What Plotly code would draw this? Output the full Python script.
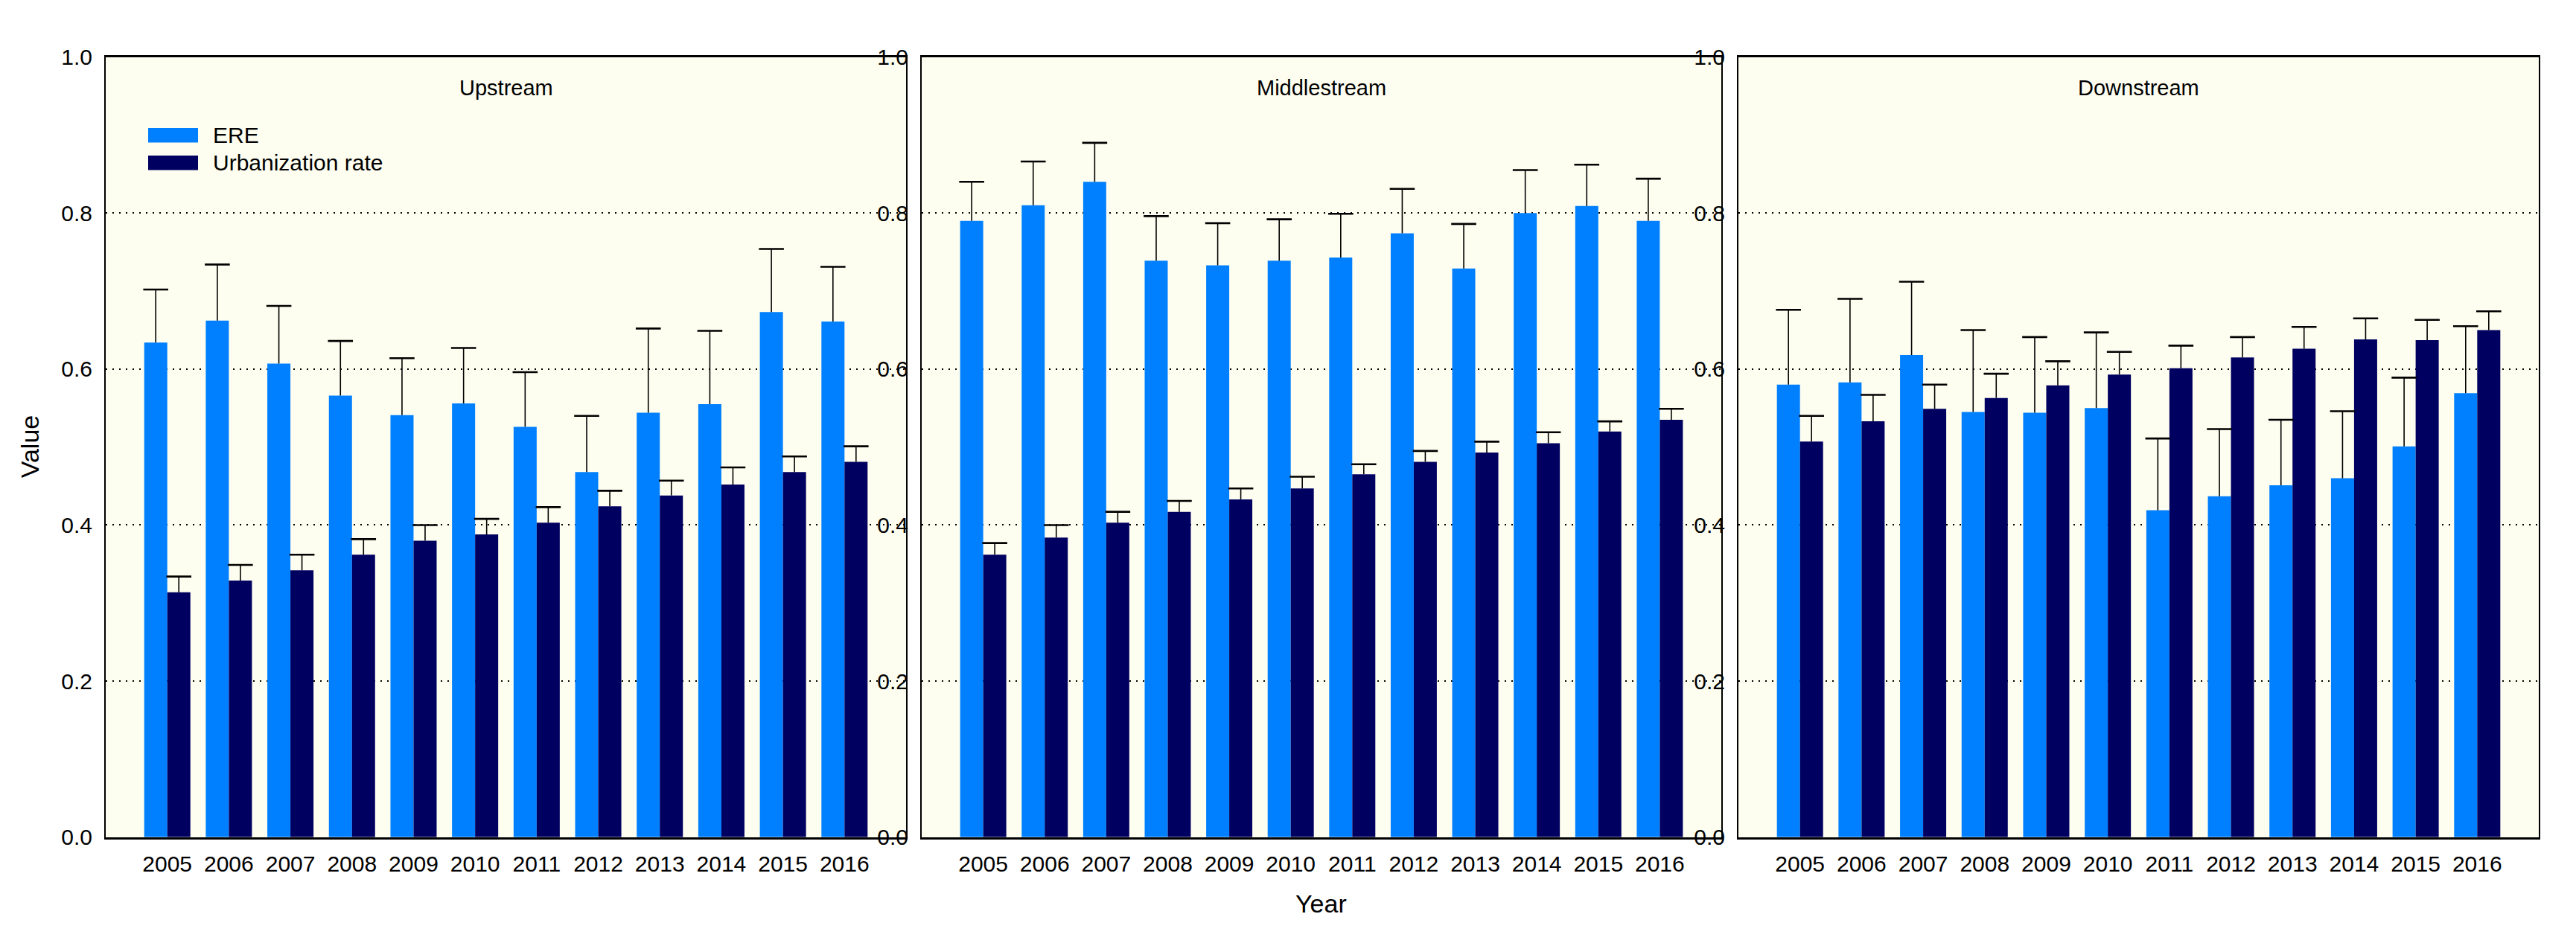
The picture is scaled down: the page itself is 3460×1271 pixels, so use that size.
import plotly.graph_objects as go

W, H = 3460, 1271

years = [2005, 2006, 2007, 2008, 2009, 2010, 2011, 2012, 2013, 2014, 2015, 2016]
regions = ["Upstream", "Middlestream", "Downstream"]
series_names = ["ERE", "Urbanization rate"]

# Upstream
up_ere = [0.634, 0.662, 0.607, 0.566, 0.541, 0.556, 0.526, 0.468, 0.544, 0.555, 0.673, 0.661]
up_ere_err = [0.068, 0.072, 0.074, 0.070, 0.073, 0.071, 0.070, 0.072, 0.108, 0.094, 0.081, 0.070]
up_urb = [0.314, 0.329, 0.342, 0.362, 0.380, 0.388, 0.403, 0.424, 0.438, 0.452, 0.468, 0.481]
up_urb_err = [0.020, 0.020, 0.020, 0.020, 0.020, 0.020, 0.020, 0.020, 0.019, 0.022, 0.020, 0.020]

# Middlestream
mid_ere = [0.790, 0.810, 0.840, 0.739, 0.733, 0.739, 0.743, 0.774, 0.729, 0.800, 0.809, 0.790]
mid_ere_err = [0.050, 0.056, 0.050, 0.057, 0.054, 0.053, 0.056, 0.057, 0.057, 0.055, 0.053, 0.054]
mid_urb = [0.362, 0.384, 0.403, 0.417, 0.433, 0.447, 0.465, 0.481, 0.493, 0.505, 0.520, 0.535]
mid_urb_err = [0.015, 0.016, 0.014, 0.014, 0.014, 0.015, 0.013, 0.014, 0.014, 0.014, 0.013, 0.014]

# Downstream
down_ere = [0.580, 0.583, 0.618, 0.545, 0.544, 0.550, 0.419, 0.437, 0.451, 0.460, 0.501, 0.569]
down_ere_err = [0.096, 0.107, 0.094, 0.105, 0.097, 0.097, 0.092, 0.086, 0.084, 0.086, 0.088, 0.086]
down_urb = [0.507, 0.533, 0.549, 0.563, 0.579, 0.593, 0.601, 0.615, 0.626, 0.638, 0.637, 0.650]
down_urb_err = [0.033, 0.034, 0.031, 0.031, 0.031, 0.029, 0.029, 0.026, 0.028, 0.027, 0.026, 0.024]

ere_vals = [up_ere, mid_ere, down_ere]
ere_errs = [up_ere_err, mid_ere_err, down_ere_err]
urb_vals = [up_urb, mid_urb, down_urb]
urb_errs = [up_urb_err, mid_urb_err, down_urb_err]

y_ticks = [0.0, 0.2, 0.4, 0.6, 0.8, 1.0]

C_ERE = "#0080ff"
C_URB = "#000060"
BG = "#fefef0"
FONT = "Arial, Liberation Sans, sans-serif"

BAR_W = 0.375

px_left = [134, 1230, 2327]
px_right = [1209, 2304, 3402]
y_top_px, y_bot_px = 53, 1130
ydom = [1 - y_bot_px / H, 1 - y_top_px / H]

fig = go.Figure()

for i in range(3):
    xa = "x" if i == 0 else f"x{i+1}"
    ya = "y" if i == 0 else f"y{i+1}"
    for vals, errs, color, off, name in [
        (ere_vals[i], ere_errs[i], C_ERE, -BAR_W, series_names[0]),
        (urb_vals[i], urb_errs[i], C_URB, 0.0, series_names[1]),
    ]:
        fig.add_trace(go.Bar(
            x=years, y=vals, width=BAR_W, offset=off,
            marker=dict(color=color, line=dict(width=0)),
            error_y=dict(type="data", symmetric=False, array=errs,
                         arrayminus=[0] * len(errs), width=0,
                         thickness=1.6, color="black"),
            name=name, showlegend=False, xaxis=xa, yaxis=ya,
        ))
        centers = [yr + off + BAR_W / 2 for yr in years]
        tops = [v + e for v, e in zip(vals, errs)]
        fig.add_trace(go.Scatter(
            x=centers, y=tops, mode="markers",
            marker=dict(symbol="line-ew", size=24, color="black",
                        line=dict(width=2.6, color="black")),
            showlegend=False, hoverinfo="skip", xaxis=xa, yaxis=ya,
        ))

layout = dict(
    width=W, height=H,
    margin=dict(l=0, r=0, t=0, b=0),
    paper_bgcolor="white",
    plot_bgcolor=BG,
    showlegend=False,
    font=dict(family=FONT, size=30, color="black"),
)

for i in range(3):
    xk = "xaxis" if i == 0 else f"xaxis{i+1}"
    yk = "yaxis" if i == 0 else f"yaxis{i+1}"
    ya_ref = "y" if i == 0 else f"y{i+1}"
    xa_ref = "x" if i == 0 else f"x{i+1}"
    layout[xk] = dict(
        domain=[px_left[i] / W, px_right[i] / W],
        range=[2004, 2017],
        tickvals=years, ticktext=[str(y) for y in years],
        ticks="", showgrid=False, zeroline=False,
        showline=True, linecolor="black", linewidth=2.5, mirror=True,
        anchor=ya_ref, tickfont=dict(size=30, family=FONT),
        ticklabelstandoff=7,
    )
    layout[yk] = dict(
        domain=ydom,
        range=[0, 1],
        tickvals=y_ticks, ticktext=[f"{t:.1f}" for t in y_ticks],
        ticks="", showgrid=True, gridcolor="black", gridwidth=1.5,
        griddash="2px,7px", zeroline=False,
        showline=True, linecolor="black", linewidth=2, mirror=True,
        anchor=xa_ref, tickfont=dict(size=30, family=FONT),
        ticklabelstandoff=10,
    )

fig.update_layout(**layout)

annotations = []
for i in range(3):
    xa_ref = "x" if i == 0 else f"x{i+1}"
    annotations.append(dict(
        text=regions[i], x=0.5, xref=f"{xa_ref} domain",
        y=1 - 96 / H, yref="paper", showarrow=False,
        font=dict(size=29, family=FONT), xanchor="center", yanchor="middle",
    ))

annotations.append(dict(text="Value", x=32 / W, y=1 - 591 / H, xref="paper", yref="paper",
                        showarrow=False, textangle=-90, font=dict(size=34, family=FONT),
                        xanchor="center", yanchor="middle"))
annotations.append(dict(text="Year", x=1767 / W, y=1 - 1222 / H, xref="paper", yref="paper",
                        showarrow=False, font=dict(size=34, family=FONT),
                        xanchor="center", yanchor="middle"))

# legend (manual, inside first panel)
shapes = []
leg_items = [(series_names[0], C_ERE, 161), (series_names[1], C_URB, 199)]
for name, color, yc in leg_items:
    shapes.append(dict(type="rect", xref="paper", yref="paper",
                       x0=191 / W, x1=258 / W, y0=1 - (yc + 10) / H, y1=1 - (yc - 10) / H,
                       fillcolor=color, line=dict(width=0)))
    annotations.append(dict(text=name, x=276 / W, y=1 - yc / H, xref="paper", yref="paper",
                            showarrow=False, font=dict(size=30, family=FONT),
                            xanchor="left", yanchor="middle"))

fig.update_layout(annotations=annotations, shapes=shapes)

fig.write_html("out.html")
